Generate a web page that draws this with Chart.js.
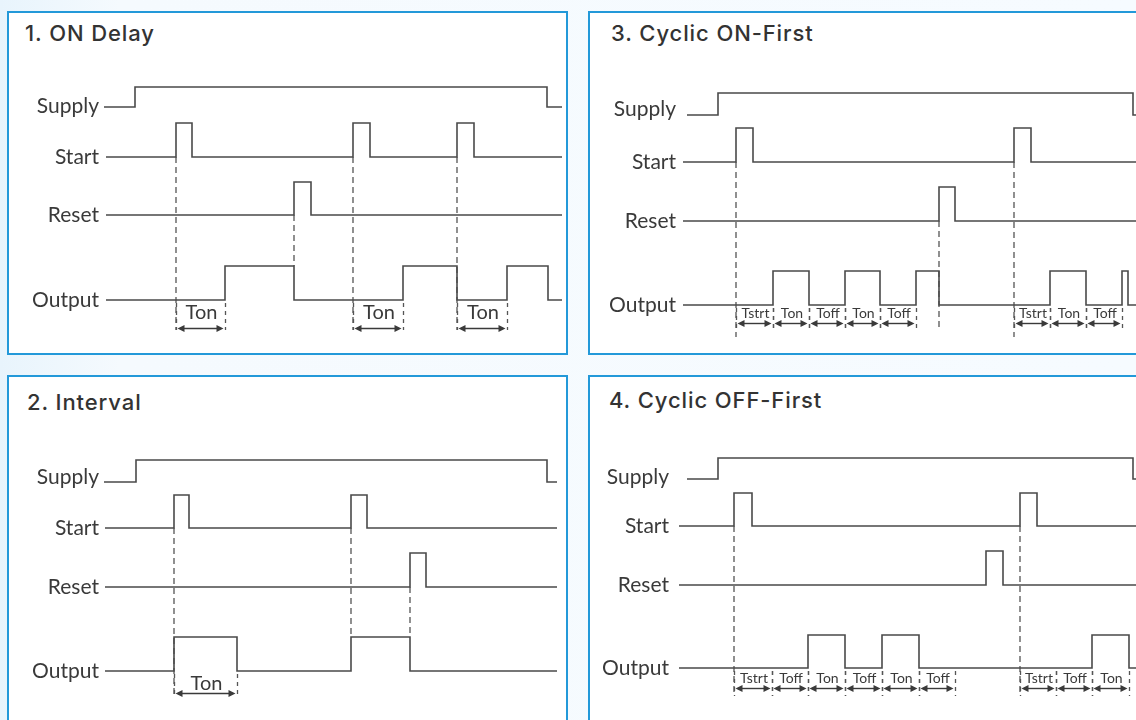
<!DOCTYPE html>
<html lang="en">
<head>
  <meta charset="UTF-8" />
  <title>Timer Relay Modes</title>
  <script src="https://cdn.jsdelivr.net/npm/chart.js"></script>
  <style>
    html, body { margin: 0; padding: 0; }
    body {
      width: 1136px; height: 720px; overflow: hidden; position: relative;
      background: linear-gradient(to right, #e8f4fc 0px, #f5fafe 120px, #f6fbff 100%);
      font-family: Lato, "Open Sans", sans-serif;
    }
    .panel {
      position: absolute; box-sizing: border-box;
      border: 2px solid #2399d9; background: #fff;
    }
    .panel-title {
      position: absolute; font-family: Inter, Roboto, "Liberation Sans", sans-serif;
      font-weight: 500; font-size: 22px; line-height: 22px; color: #333;
      letter-spacing: 0.9px; white-space: nowrap;
    }
    canvas { position: absolute; }
  </style>
</head>
<body>
  <div class="panel" style="left:7px; top:11px; width:561px; height:344px;"></div>
  <div class="panel" style="left:588px; top:11px; width:560px; height:344px;"></div>
  <div class="panel" style="left:7px; top:375px; width:561px; height:360px;"></div>
  <div class="panel" style="left:588px; top:375px; width:560px; height:360px;"></div>

  <div class="panel-title" style="left:25px; top:22px;">1. ON Delay</div>
  <div class="panel-title" style="left:611px; top:22px;">3. Cyclic ON-First</div>
  <div class="panel-title" style="left:27px; top:391px;">2. Interval</div>
  <div class="panel-title" style="left:609px; top:389px;">4. Cyclic OFF-First</div>

  <canvas id="chartOnDelay"></canvas>
  <canvas id="chartCyclicOn"></canvas>
  <canvas id="chartInterval"></canvas>
  <canvas id="chartCyclicOff"></canvas>

  <script>
    // Signal names, drawn in this order from top to bottom
    const signalNames = ["Supply", "Start", "Reset", "Output"];

    // Switching instants (each one toggles the level, starting low)
    // 1. ON Delay
    const onDelaySupply = [135, 547];
    const onDelayStart = [176, 192, 353, 370, 457, 474];
    const onDelayReset = [294, 311];
    const onDelayOutput = [225, 294, 403, 457, 507, 548];
    const onDelaySpans = [[176, 225, "Ton"], [353, 403, "Ton"], [457, 507, "Ton"]];

    // 2. Interval
    const intervalSupply = [136, 547];
    const intervalStart = [174, 189, 351, 367];
    const intervalReset = [410, 426];
    const intervalOutput = [174, 237, 351, 410];
    const intervalSpans = [[174, 237, "Ton"]];

    // 3. Cyclic ON-First
    const cyclicOnSupply = [718, 1133];
    const cyclicOnStart = [736, 753, 1014, 1031];
    const cyclicOnReset = [939, 955];
    const cyclicOnOutput = [773, 809, 845, 880, 916, 939, 1050, 1086, 1122, 1128];
    const cyclicOnSpans = [
      [736, 773, "Tstrt"], [773, 809, "Ton"], [809, 845, "Toff"], [845, 880, "Ton"], [880, 916, "Toff"],
      [1014, 1050, "Tstrt"], [1050, 1086, "Ton"], [1086, 1122, "Toff"]
    ];

    // 4. Cyclic OFF-First
    const cyclicOffSupply = [718, 1133];
    const cyclicOffStart = [734, 752, 1020, 1037];
    const cyclicOffReset = [986, 1003];
    const cyclicOffOutput = [808, 845, 882, 919, 1092, 1129];
    const cyclicOffSpans = [
      [734, 772, "Tstrt"], [772, 808, "Toff"], [808, 845, "Ton"], [845, 882, "Toff"], [882, 919, "Ton"], [919, 955, "Toff"],
      [1020, 1056, "Tstrt"], [1056, 1092, "Toff"], [1092, 1129, "Ton"]
    ];

    // Dashed guide lines: [time, signal it drops from, where it ends]
    const onDelayGuides = [[176, "Start", "below"], [294, "Reset", "Output"], [353, "Start", "below"], [457, "Start", "below"]];
    const intervalGuides = [[174, "Start", "below"], [351, "Start", "Output"], [410, "Reset", "Output"]];
    const cyclicOnGuides = [[736, "Start", "below"], [939, "Reset", "arrow"], [1014, "Start", "below"]];
    const cyclicOffGuides = [[734, "Start", "below"], [1020, "Start", "below"]];

    const LINE = "#4a4a4a";

    // Layout of each panel (page pixels)
    const panels = [
      {
        id: "chartOnDelay", box: [7, 11, 561, 344],
        rows: { Supply: [107, 20], Start: [157, 34], Reset: [215, 33], Output: [300, 34] },
        supplyLabelShift: -1,
        labelRight: 99, supplyFrom: 104, from: 106, to: 562,
        arrowY: 328, labelY: 313, guideEnd: 330, tickEnd: 330, spanFont: 20,
        signals: [onDelaySupply, onDelayStart, onDelayReset, onDelayOutput],
        spans: onDelaySpans, guides: onDelayGuides
      },
      {
        id: "chartCyclicOn", box: [588, 11, 560, 344],
        rows: { Supply: [115, 22], Start: [162, 34], Reset: [221, 34], Output: [305, 34] },
        supplyLabelShift: -6,
        labelRight: 676, supplyFrom: 687, from: 683, to: 1148,
        arrowY: 323, labelY: 313, guideEnd: 337, tickEnd: 332, spanFont: 14,
        signals: [cyclicOnSupply, cyclicOnStart, cyclicOnReset, cyclicOnOutput],
        spans: cyclicOnSpans, guides: cyclicOnGuides
      },
      {
        id: "chartInterval", box: [7, 375, 561, 360],
        rows: { Supply: [482, 22], Start: [528, 33], Reset: [587, 34], Output: [671, 34] },
        supplyLabelShift: -5,
        labelRight: 99, supplyFrom: 104, from: 105, to: 557,
        arrowY: 693, labelY: 684, guideEnd: 698, tickEnd: 698, spanFont: 20,
        signals: [intervalSupply, intervalStart, intervalReset, intervalOutput],
        spans: intervalSpans, guides: intervalGuides
      },
      {
        id: "chartCyclicOff", box: [588, 375, 560, 360],
        rows: { Supply: [479, 21], Start: [526, 33], Reset: [585, 34], Output: [668, 33] },
        supplyLabelShift: -2,
        labelRight: 669, supplyFrom: 687, from: 679, to: 1148,
        arrowY: 688, labelY: 678, guideEnd: 695, tickEnd: 696, spanFont: 14,
        signals: [cyclicOffSupply, cyclicOffStart, cyclicOffReset, cyclicOffOutput],
        spans: cyclicOffSpans, guides: cyclicOffGuides
      }
    ];

    // Turn toggle instants into a square wave
    function waveform(edges, from, to, row) {
      const level = l => row[0] - l * row[1];
      const pts = [{ x: from, y: level(0) }];
      let l = 0;
      edges.forEach(t => {
        pts.push({ x: t, y: level(l) });
        l = 1 - l;
        pts.push({ x: t, y: level(l) });
      });
      pts.push({ x: to, y: level(l) });
      return pts;
    }

    // Labels, span arrows and their captions
    const annotations = {
      id: "annotations",
      afterDatasetsDraw(chart, args, opts) {
        const p = opts.panel;
        const ctx = chart.ctx;
        const xs = chart.scales.x, ys = chart.scales.y;
        ctx.save();
        // signal names
        ctx.fillStyle = "#3a3a3a";
        ctx.font = "400 21px Lato";
        ctx.textAlign = "right";
        ctx.textBaseline = "middle";
        signalNames.forEach(name => {
          const shift = name === "Supply" ? p.supplyLabelShift : 0;
          ctx.fillText(name, xs.getPixelForValue(p.labelRight), ys.getPixelForValue(p.rows[name][0] + shift));
        });
        // span boundaries (dashed ticks)
        ctx.strokeStyle = "#555";
        ctx.lineWidth = 1.3;
        ctx.setLineDash([4, 4]);
        const outY = ys.getPixelForValue(p.rows.Output[0] + 3);
        const tickY = ys.getPixelForValue(p.tickEnd);
        p.spans.forEach(s => {
          [s[0], s[1]].forEach(t => {
            const x = Math.round(xs.getPixelForValue(t)) + 0.5;
            ctx.beginPath(); ctx.moveTo(x, outY); ctx.lineTo(x, tickY); ctx.stroke();
          });
        });
        ctx.setLineDash([]);
        // arrows
        const ay = Math.round(ys.getPixelForValue(p.arrowY)) + 0.5;
        ctx.fillStyle = "#3a3a3a";
        ctx.strokeStyle = "#3a3a3a";
        ctx.lineWidth = 1.4;
        p.spans.forEach(s => {
          const x1 = xs.getPixelForValue(s[0]) + 1.5, x2 = xs.getPixelForValue(s[1]) - 1.5;
          ctx.beginPath(); ctx.moveTo(x1 + 3, ay); ctx.lineTo(x2 - 3, ay); ctx.stroke();
          ctx.beginPath(); ctx.moveTo(x1, ay); ctx.lineTo(x1 + 7, ay - 3.5); ctx.lineTo(x1 + 7, ay + 3.5); ctx.closePath(); ctx.fill();
          ctx.beginPath(); ctx.moveTo(x2, ay); ctx.lineTo(x2 - 7, ay - 3.5); ctx.lineTo(x2 - 7, ay + 3.5); ctx.closePath(); ctx.fill();
          ctx.font = "400 " + p.spanFont + "px Lato";
          ctx.textAlign = "center";
          ctx.textBaseline = "middle";
          ctx.fillStyle = "#3a3a3a";
          ctx.fillText(s[2], (x1 + x2) / 2 + 1, ys.getPixelForValue(p.labelY));
        });
        ctx.restore();
      }
    };

    function buildPanel(p) {
      const canvas = document.getElementById(p.id);
      const [left, top, w, h] = p.box;
      canvas.width = w; canvas.height = h;
      canvas.style.left = left + "px"; canvas.style.top = top + "px";

      const datasets = signalNames.map((name, i) => ({
        label: name,
        data: waveform(p.signals[i], name === "Supply" ? p.supplyFrom : p.from, p.to, p.rows[name]),
        borderColor: LINE, borderWidth: 1.6, pointRadius: 0, fill: false, tension: 0
      }));
      p.guides.forEach(g => {
        const outHigh = p.rows.Output[0] - p.rows.Output[1];
        const end = g[2] === "below" ? p.guideEnd : g[2] === "Output" ? outHigh : p.arrowY + 5;
        datasets.push({
          label: "guide",
          data: [{ x: g[0], y: p.rows[g[1]][0] }, { x: g[0], y: end }],
          borderColor: "#555", borderWidth: 1.3, borderDash: [6, 4],
          pointRadius: 0, fill: false
        });
      });

      new Chart(canvas.getContext("2d"), {
        type: "line",
        data: { datasets: datasets },
        options: {
          responsive: false, animation: false, devicePixelRatio: 1,
          layout: { padding: 0 },
          scales: {
            x: { type: "linear", display: false, min: left, max: left + w },
            y: { type: "linear", display: false, min: top, max: top + h, reverse: true }
          },
          plugins: {
            legend: { display: false }, tooltip: { enabled: false },
            annotations: { panel: p }
          }
        },
        plugins: [annotations]
      });
    }

    panels.forEach(buildPanel);
  </script>
</body>
</html>
